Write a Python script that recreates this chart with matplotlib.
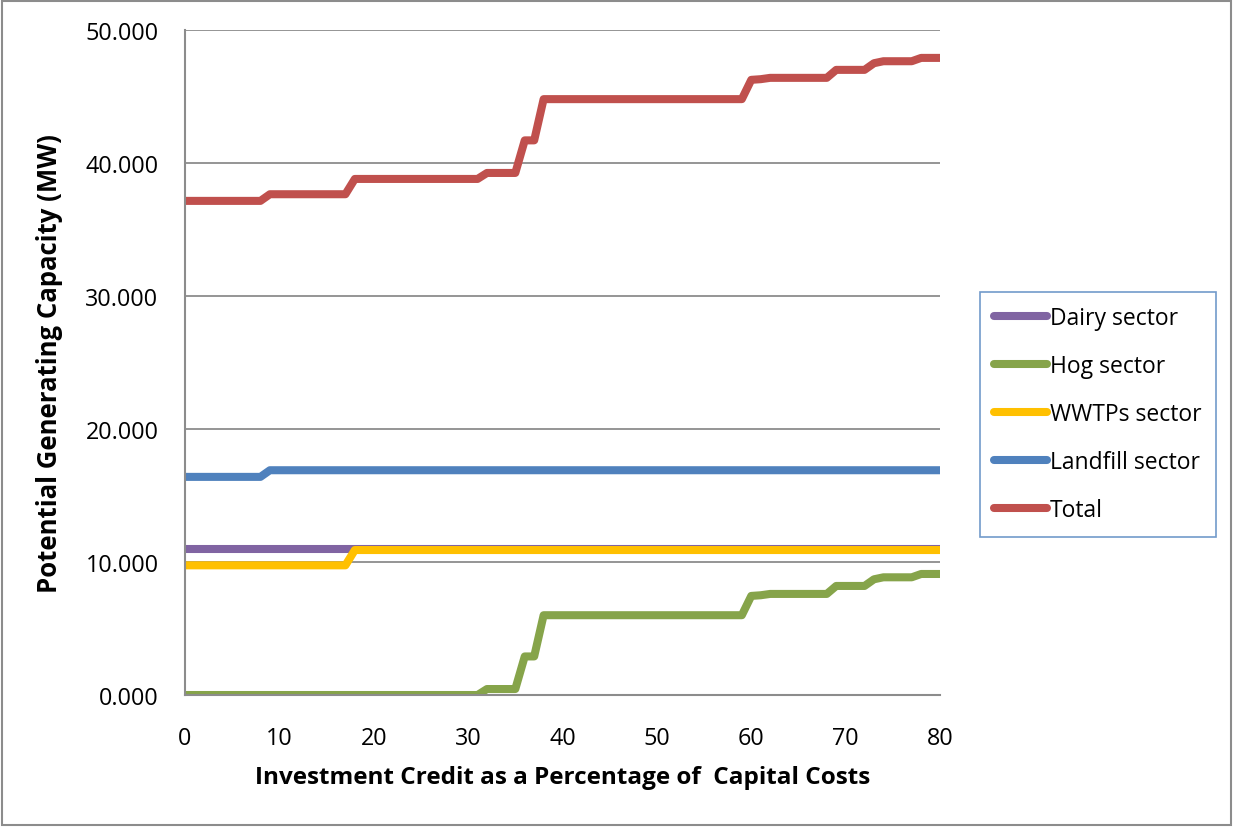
import numpy as np
import matplotlib
matplotlib.use("Agg")
import matplotlib.pyplot as plt
from matplotlib.patches import Rectangle

# investment credit (% of capital costs)
credit = list(range(0, 81))

# capacity in MW, stored as (value, number of consecutive credit steps)
dairy_runs = [(11.0, 81)]
hog_runs = [(0.0, 32), (0.45, 4), (2.9, 2), (6.0, 22), (7.45, 1), (7.5, 1),
            (7.6, 7), (8.2, 4), (8.7, 1), (8.85, 4), (9.1, 3)]
wwtp_runs = [(9.75, 18), (10.9, 63)]
landfill_runs = [(16.4, 9), (16.9, 72)]
total_runs = [(37.15, 9), (37.65, 9), (38.8, 14), (39.25, 4), (41.7, 2),
              (44.8, 22), (46.25, 1), (46.3, 1), (46.4, 7), (47.0, 4),
              (47.5, 1), (47.65, 4), (47.9, 3)]

series_names = ["Dairy sector", "Hog sector", "WWTPs sector",
                "Landfill sector", "Total"]
series_colors = ["#8064A2", "#86A44A", "#FFC000", "#4F81BD", "#C0504D"]

y_ticks = [0, 10, 20, 30, 40, 50]
x_ticks = [0, 10, 20, 30, 40, 50, 60, 70, 80]


def expand(runs):
    vals = []
    for v, n in runs:
        vals += [v] * n
    return np.array(vals)


plt.rcParams["font.family"] = ["Open Sans", "DejaVu Sans"]

fig = plt.figure(figsize=(12.33, 8.28), dpi=100)
ax = fig.add_axes([0.150, 0.1594, 0.6124, 0.8032])

all_runs = [dairy_runs, hog_runs, wwtp_runs, landfill_runs, total_runs]
for runs, name, col in zip(all_runs, series_names, series_colors):
    ax.plot(credit, expand(runs), color=col, lw=5.8, label=name,
            solid_capstyle="round", solid_joinstyle="round")

ax.set_xlim(0, 80)
ax.set_ylim(0, 50)
ax.set_xticks(x_ticks)
ax.set_yticks(y_ticks)
ax.set_yticklabels(["%.3f" % v for v in y_ticks])
ax.tick_params(axis="both", length=0, labelsize=16.8, colors="black")
ax.tick_params(axis="y", pad=19)
ax.tick_params(axis="x", pad=22)
ax.grid(axis="y", color="#8c8c8c", lw=1.3)
ax.set_axisbelow(True)
for s in ["top", "right"]:
    ax.spines[s].set_visible(False)
for s in ["left", "bottom"]:
    ax.spines[s].set_color("#8c8c8c")
    ax.spines[s].set_linewidth(1.5)

ax.set_xlabel("Investment Credit as a Percentage of  Capital Costs",
              fontsize=17.5, fontweight="bold", labelpad=11)
ax.set_ylabel("Potential Generating Capacity (MW)",
              fontsize=18.5, fontweight="bold", labelpad=16)

leg = ax.legend(loc="upper left", bbox_to_anchor=(980 / 1233, 1 - 293 / 828),
                bbox_transform=fig.transFigure, fontsize=16.5, frameon=True,
                fancybox=False, borderpad=0.62, labelspacing=1.05,
                handlelength=2.3, handletextpad=0.12, borderaxespad=0)
leg.get_frame().set_edgecolor("#4F81BD")
leg.get_frame().set_linewidth(1.2)
for ln in leg.get_lines():
    ln.set_solid_capstyle("round")

# outer chart border
fig.patches.append(Rectangle((0.002, 0.002), 0.996, 0.996,
                             transform=fig.transFigure, fill=False,
                             edgecolor="#8c8c8c", lw=1.5))

fig.savefig("out.png", dpi=100)
